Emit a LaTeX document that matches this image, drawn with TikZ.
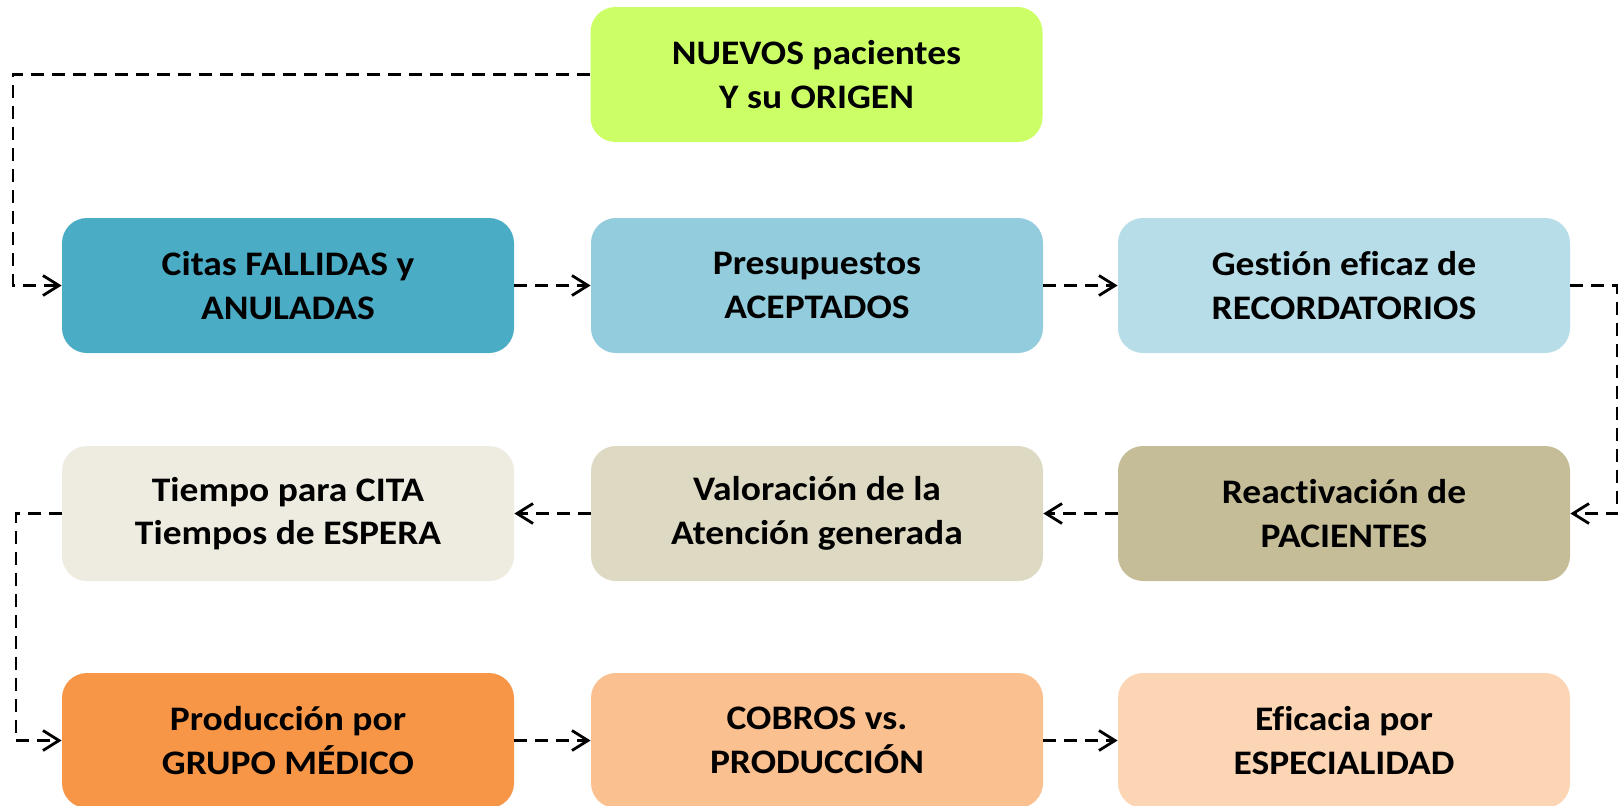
\documentclass[tikz,border=0pt]{standalone}
\usepackage{fontspec}
\setmainfont[FakeStretch=1.09,Ligatures=NoCommon]{Carlito}
\usetikzlibrary{arrows.meta}
\definecolor{cNuevos}{HTML}{CCFF66}
\definecolor{cCitas}{HTML}{4BACC6}
\definecolor{cPresu}{HTML}{93CDDD}
\definecolor{cGestion}{HTML}{B7DEE8}
\definecolor{cReact}{HTML}{C4BD97}
\definecolor{cValor}{HTML}{DDD9C3}
\definecolor{cTiempo}{HTML}{EEECE1}
\definecolor{cProd}{HTML}{F79646}
\definecolor{cCobros}{HTML}{FAC090}
\definecolor{cEfic}{HTML}{FCD5B5}
\tikzset{
  box/.style={rounded corners=12.5pt, minimum width=226pt, minimum height=67.5pt,
    inner sep=0pt, align=center, font=\fontsize{17.2}{21.8}\selectfont\bfseries, text=black},
  conn/.style={line width=1.4pt, dash pattern=on 6.5pt off 4pt,
    -{Straight Barb[length=8pt,width=10pt,line width=1.4pt]}}
}
\begin{document}
\begin{tikzpicture}[x=0.5pt,y=-0.5pt]
\useasboundingbox (0,0) rectangle (1623,805);
\clip (0,0) rectangle (1623,805);
\fill[white] (0,0) rectangle (1623,805);
% top
\node[box, fill=cNuevos] (nuevos) at (816.5,74.5) {NUEVOS pacientes\\Y su ORIGEN};
% row 1
\node[box, fill=cCitas] (citas) at (288,285.5) {Citas FALLIDAS y\\ANULADAS};
\node[box, fill=cPresu] (presu) at (817,285.5) {Presupuestos\\ACEPTADOS};
\node[box, fill=cGestion] (gestion) at (1344,285.5) {Gestión eficaz de\\RECORDATORIOS};
% row 2
\node[box, fill=cTiempo] (tiempo) at (288,513.5) {Tiempo para CITA\\Tiempos de ESPERA};
\node[box, fill=cValor] (valor) at (817,513.5) {Valoración de la\\Atención generada};
\node[box, fill=cReact] (react) at (1344,513.5) {Reactivación de\\PACIENTES};
% row 3
\node[box, fill=cProd] (prod) at (288,740.5) {Producción por\\GRUPO MÉDICO};
\node[box, fill=cCobros] (cobros) at (817,740.5) {COBROS vs.\\PRODUCCIÓN};
\node[box, fill=cEfic] (efic) at (1344,740.5) {Eficacia por\\ESPECIALIDAD};
% bend coordinates
\coordinate (k1) at (13,74.5);
\coordinate (k2) at (1617,285.5);
\coordinate (k3) at (16,513.5);
% connectors
\draw[conn] (nuevos.west) -- (k1) |- (citas.west);
\draw[conn] (citas.east) -- (presu.west);
\draw[conn] (presu.east) -- (gestion.west);
\draw[conn] (gestion.east) -- (k2) |- (react.east);
\draw[conn] (react.west) -- (valor.east);
\draw[conn] (valor.west) -- (tiempo.east);
\draw[conn] (tiempo.west) -- (k3) |- (prod.west);
\draw[conn] (prod.east) -- (cobros.west);
\draw[conn] (cobros.east) -- (efic.west);
\end{tikzpicture}
\end{document}
